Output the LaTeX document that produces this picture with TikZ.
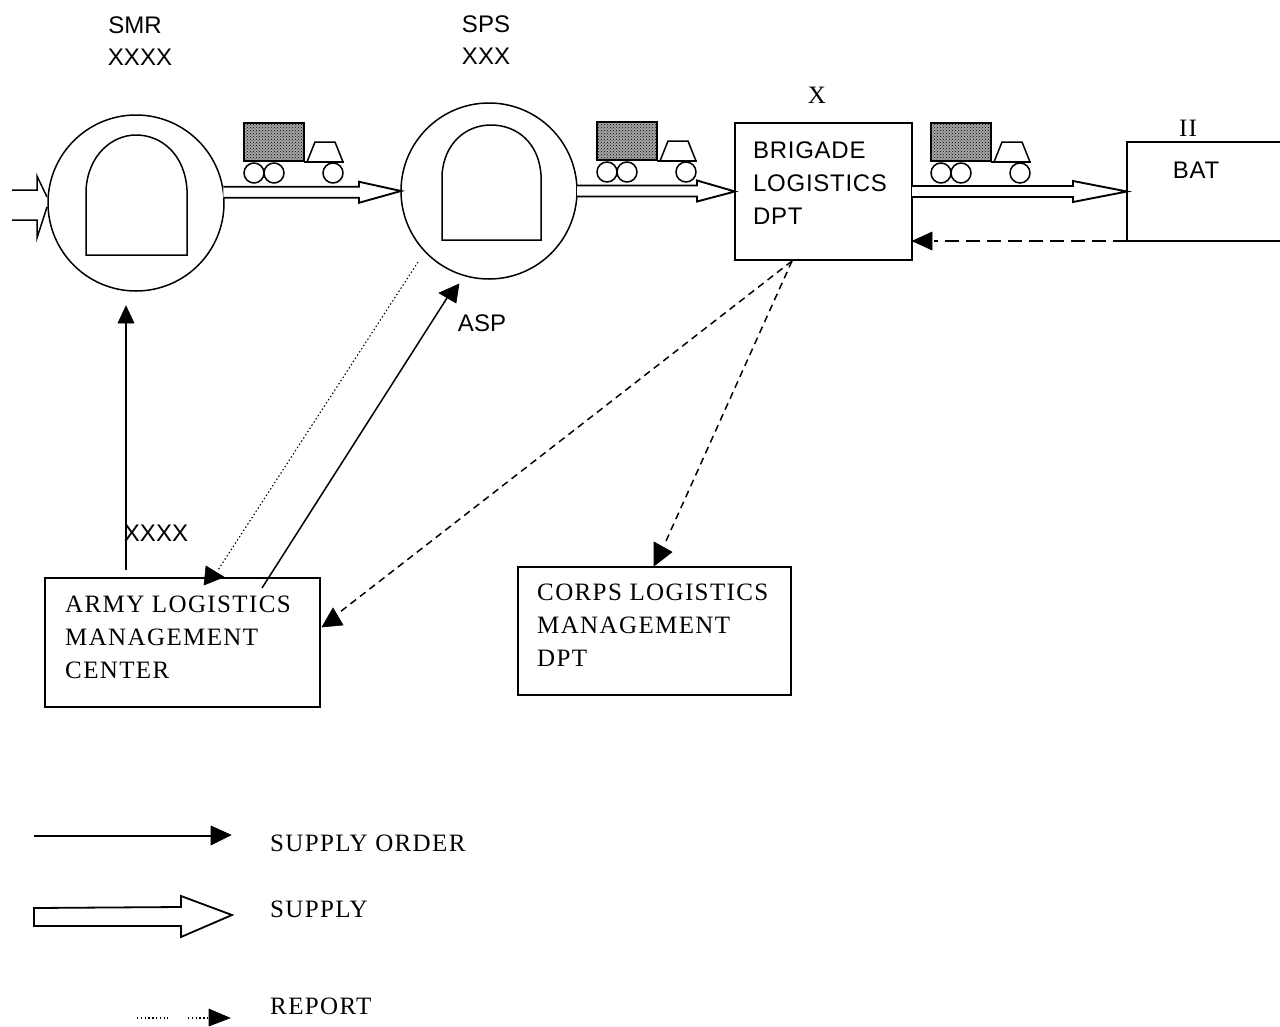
\documentclass[tikz,border=0pt]{standalone}
\usepackage{fontspec}
\setmainfont{Liberation Serif}
\newfontfamily\lsans{Liberation Sans}
\newfontfamily\lsansw[LetterSpace=3]{Liberation Sans}
\newfontfamily\serifw[LetterSpace=5.5]{Liberation Serif}
\usetikzlibrary{patterns,calc,arrows.meta}
\tikzset{
  x=1pt,y=-1pt,
  ln/.style={draw=black,line width=1.5pt},
  box/.style={ln,rectangle,inner sep=0pt,outer sep=0pt,anchor=north west},
  ring/.style={ln,circle,inner sep=0pt,outer sep=0pt,minimum size=176pt},
  serif/.style={inner sep=0pt,anchor=west,align=left,font=\serifw\fontsize{25}{33}\selectfont},
  sans/.style={inner sep=0pt,font=\lsansw\fontsize{24}{33}\selectfont},
  tight/.style={inner sep=0pt,font=\lsans\fontsize{24}{28}\selectfont},
  head/.style={fill=black,draw=black,line width=.6pt},
  orderline/.style={ln},
  reportline/.style={draw=black,line width=1.1pt,dash pattern=on 1.4pt off 2.4pt},
  dashline/.style={draw=black,line width=1.5pt,dash pattern=on 7pt off 5pt},
  longdash/.style={draw=black,line width=2.2pt,dash pattern=on 14pt off 7pt},
  wheel/.style={ln,circle,inner sep=0pt,minimum size=20pt},
  cargo/.style={draw=black,line width=1.8pt,preaction={fill=black!35},pattern=crosshatch dots,pattern color=black},
}
% truck at cargo top-left corner
\newcommand{\truck}[2]{%
  \begin{scope}[shift={(#1,#2)}]
    \path[cargo] (0,0) rectangle (60,38);
    \draw[ln] (60,39) -- (100,39);
    \draw[ln] (63,39) -- (71,19) -- (91,19) -- (99,39);
    \node[wheel] at (10,50) {};
    \node[wheel] at (30,50) {};
    \node[wheel] at (89,50) {};
  \end{scope}}
% outlined supply arrow from #1 to #2, head length #3
\newcommand{\supplyarrow}[3]{%
  \draw[draw=black,line width=1.9pt,line join=miter,fill=white] let \p1=(#1),\p2=(#2) in
    (\x1,\y1-5.5) -- (\x2-#3,\y1-5.5) -- (\x2-#3,\y1-10.5) -- (\x2,\y2)
    -- (\x2-#3,\y1+10.5) -- (\x2-#3,\y1+5.5) -- (\x1,\y1+5.5);}
\begin{document}
\begin{tikzpicture}
\clip (0,0) rectangle (1280,1026);
\fill[white] (0,0) rectangle (1280,1026);

% depots
\node[ring] (smr) at (136,203) {};
\node[ring] (asp) at (489,191) {};
\draw[ln] (86,255) -- (86,190) .. controls (88,155) and (112,135) .. (136,135)
  .. controls (162,135) and (185,155) .. (187,190) -- (187,255) -- cycle;
\draw[ln] (442,240) -- (442,175) .. controls (444,143) and (466,125) .. (491,125)
  .. controls (517,125) and (539,143) .. (541,175) -- (541,240) -- cycle;

% boxes
\node[box,minimum width=177pt,minimum height=137pt] (brig) at (735,123) {};
\node[box,minimum width=200pt,minimum height=99pt] (bat) at (1127,142) {};
\node[box,minimum width=275pt,minimum height=129pt] (army) at (45,578) {};
\node[box,minimum width=273pt,minimum height=128pt] (corps) at (518,567) {};

% box text
\node[sans,anchor=west,align=left] (brigt) at (753,183) {BRIGADE\\LOGISTICS\\DPT};
\node[sans,anchor=center] (batt) at (1196,170) {BAT};
\node[serif] (armyt) at (65,637) {ARMY LOGISTICS\\MANAGEMENT\\CENTER};
\node[serif] (corpst) at (537,625) {CORPS LOGISTICS\\MANAGEMENT\\DPT};

% echelon labels
\node[tight] (l1) at (135,25) {SMR};
\node[tight] (l2) at (140,57) {XXXX};
\node[tight] (l3) at (486,24) {SPS};
\node[tight] (l4) at (486,56) {XXX};
\node[serif,anchor=center] (l5) at (817,95) {X};
\node[serif,anchor=center] (l6) at (1188,128) {II};
\node[tight] (l7) at (482,323) {ASP};
\node[tight] (l8) at (156,533) {XXXX};

% trucks
\truck{244}{123}
\truck{597}{122}
\truck{931}{123}

% supply arrows
\supplyarrow{smr.7}{asp.west}{42}
\supplyarrow{asp.east}{brig.west}{38}
\supplyarrow{brig.east}{bat.west}{54}

% incoming arrows
\coordinate (in1) at (12,190);
\coordinate (in2) at (12,220);
\draw[ln] (in1) -- (37,190) -- (37,176) -- (47,197);
\draw[ln] (in2) -- (37,220) -- (37,238) -- (47,207);

% order arrows
\coordinate (o1s) at (126,570);
\coordinate (o1e) at (126,323);
\draw[orderline] (o1s) -- (o1e);
\path[head] (126,306) -- (134,323) -- (118,323) -- cycle;
\coordinate (o2s) at (262,588);
\coordinate (o2e) at (447,298);
\draw[orderline] (o2s) -- (o2e);
\path[head] (459,284) -- (456,303) -- (439,293) -- cycle;

% reports
\coordinate (r1s) at (418,262);
\coordinate (r1e) at (218,570);
\draw[reportline] (r1s) -- (r1e);
\path[head] (224,577) -- (204,585) -- (206,566) -- cycle;
\coordinate (r2s) at (792,261);
\coordinate (r2e) at (340,612);
\draw[dashline] (r2s) -- (r2e);
\path[head] (322,627) -- (333,608) -- (343,625) -- cycle;
\coordinate (r3e) at (666,541);
\draw[dashline] (r2s) -- (r3e);
\path[head] (654,566) -- (654,542) -- (672,552) -- cycle;
\draw[longdash] (bat.south west) -- ($(bat.south west -| brig.east)+(22,0)$);
\path[head] (912.5,241) -- (932,232) -- (932,250) -- cycle;

% legend
\coordinate (k1) at (34,836);
\coordinate (k1e) at (211,836);
\draw[orderline] (k1) -- (k1e);
\path[head] (231,835) -- (211,826) -- (211,845) -- cycle;
\coordinate (k2) at (34,917);
\coordinate (k2e) at (232,915);
\draw[ln,line width=1.8pt] (k2) -- (34,908) -- (181,907) -- (181,896) -- (k2e) -- (181,937) -- (181,926) -- (34,926) -- cycle;
\coordinate (k3) at (137,1018);
\coordinate (k3a) at (168,1018);
\coordinate (k3b) at (188,1018);
\coordinate (k3e) at (209,1018);
\draw[reportline] (k3) -- (k3a);
\draw[reportline] (k3b) -- (k3e);
\path[head] (230,1018) -- (209,1009) -- (209,1026) -- cycle;

\node[serif] (t1) at (270,843) {SUPPLY ORDER};
\node[serif] (t2) at (270,909) {SUPPLY};
\node[serif] (t3) at (270,1006) {REPORT};
\end{tikzpicture}
\end{document}
